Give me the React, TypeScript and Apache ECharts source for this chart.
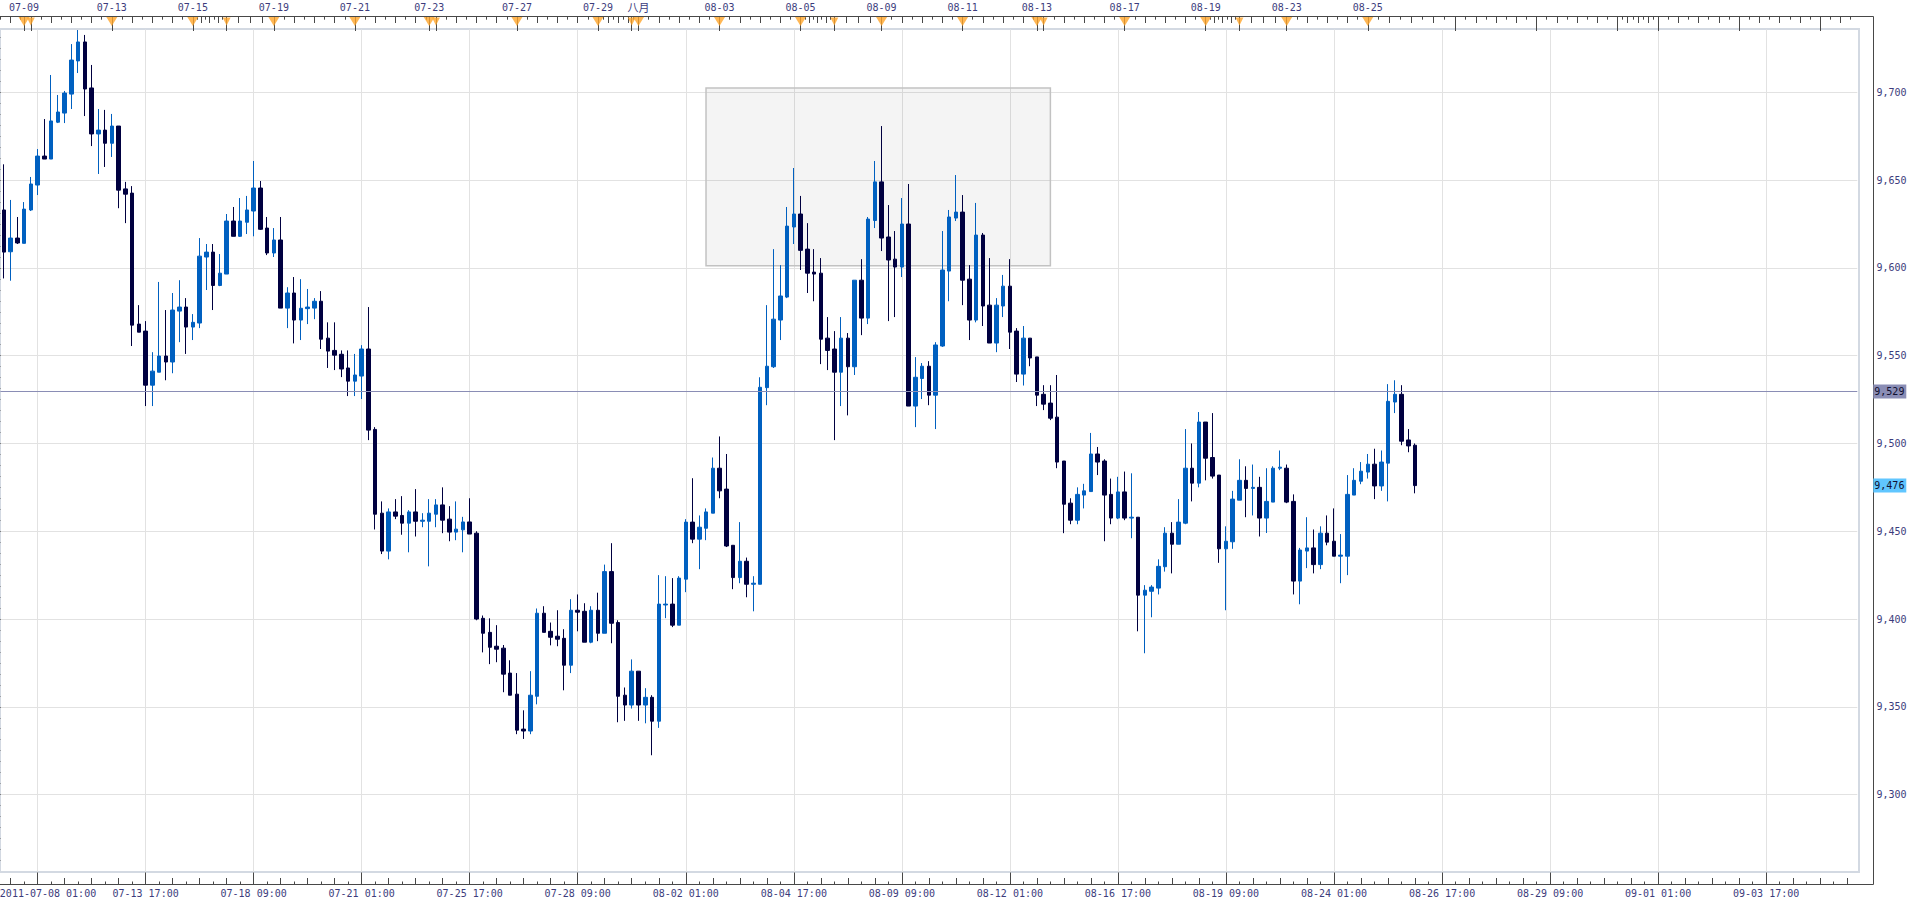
import React, { useEffect, useRef } from "react";
import * as echarts from "echarts";

const opens = [9633,9609.2,9617,9614,9633,9647.2,9663.7,9662,9683,9688.2,9699,9717.9,9728.7,9702.5,9676.3,9678.5,9671,9680.8,9645,9642.6,9568,9564,9533.2,9540.6,9549.8,9546.4,9575.4,9577.7,9566.3,9568.6,9606.2,9609,9590,9596.5,9626.7,9618,9626,9632.4,9645.5,9622.7,9608.5,9615.9,9577.1,9585.7,9570.3,9576.8,9577.1,9581,9560,9553,9550.8,9543,9535.5,9538.4,9553.8,9508,9460.3,9438.7,9461,9459,9454.6,9461,9455.7,9455.7,9459.7,9465,9456.9,9449.5,9450.8,9455.3,9448.9,9400.4,9392.4,9384.5,9383.4,9369.2,9357.2,9337.3,9336.2,9356,9403.3,9393,9390.2,9389,9373.7,9405,9404.4,9386.8,9405,9391.9,9427,9398,9356.6,9351,9370.3,9351,9355.4,9341.8,9408,9408.5,9396.5,9422.7,9455.2,9445.5,9451.7,9460.3,9485.9,9474,9442,9423.6,9432.9,9419.8,9419.8,9531.8,9543.7,9570.3,9583.4,9623.3,9630.7,9610.7,9597.6,9597,9560,9553.8,9540.6,9560,9543.7,9593,9571.4,9627,9649,9617.6,9605,9600.5,9625,9521.3,9537,9544,9527.5,9555.5,9598.2,9628.4,9631.8,9593.6,9570.3,9618.7,9578.8,9557.2,9578.3,9589.6,9564,9539.5,9560,9549.3,9528,9523,9515,9490,9466,9456.3,9470.6,9472.6,9494,9490,9471,9457.5,9472.4,9457.5,9458,9413.6,9415.8,9417.6,9429.8,9448.9,9442.6,9454.6,9485.9,9477.4,9512.2,9492,9482,9440,9444,9467.7,9479,9474.4,9475,9457.5,9466.6,9485.9,9485.9,9467,9421.6,9438.7,9440.5,9431,9448.9,9444.3,9435.8,9435.8,9470.6,9478.5,9483.7,9488.2,9475.8,9488.8,9523.6,9528,9502,9499];
const closes = [9609,9617,9614.2,9633.5,9647.8,9663.7,9662,9683.7,9688.8,9699.6,9718.4,9728.7,9701.9,9676.3,9678.5,9671,9680.8,9644.3,9642,9567.4,9563.4,9533.2,9541.2,9549.8,9546.4,9576,9577.7,9566.3,9569,9606.7,9609,9590,9597,9626.7,9618,9626.7,9633,9645.5,9622,9608.5,9615.9,9577.1,9585.7,9570.3,9577,9577.7,9581,9559.4,9552.6,9550.3,9542.4,9535.5,9539,9553.8,9507.6,9459.7,9438.7,9461,9458.6,9454.6,9461,9455.7,9456.3,9460.3,9465,9456.3,9449.5,9451.2,9455.3,9448.4,9400,9391.9,9383.9,9382.8,9368.6,9356.6,9336.7,9336.2,9356.6,9403.3,9392.4,9389.6,9388.5,9373.7,9405,9403.9,9386.8,9405,9391.9,9427,9397.6,9356,9351,9370.3,9351,9355.4,9341.8,9408.5,9408.5,9396.5,9423.3,9455.2,9445.5,9452.3,9461,9485.9,9473,9441.6,9423.6,9432.9,9419.8,9420.4,9532,9544,9570.8,9584,9623.8,9630.7,9610,9597,9596.5,9559.4,9553,9540.6,9560,9543.7,9593,9571.4,9627.8,9649,9617,9604.5,9600.5,9625,9521.3,9537.7,9544,9527.5,9556.1,9598.8,9629,9631.8,9593,9570.3,9618.7,9578.3,9557.2,9578.8,9589.6,9563.4,9539.5,9560,9548.7,9527.5,9522.4,9514.4,9489.4,9465.4,9456.3,9471,9473,9494,9489.4,9470.6,9457.5,9472.4,9457.5,9458,9413.6,9416.4,9418.2,9430,9448.9,9442.6,9455.2,9485.9,9477.4,9512.2,9491.6,9481.4,9440,9444.3,9468.3,9479,9474.4,9475,9457.5,9467,9485.9,9486.5,9466.6,9421.6,9439.3,9440.5,9431,9448.9,9443.8,9435.8,9436.4,9471,9479,9484.2,9488.2,9475.8,9489.4,9524,9528,9501.3,9498.6,9476];
const lows = [9594,9592.7,9613.6,9614,9632.4,9641.5,9662,9662,9682.5,9682.5,9690.5,9711,9686.5,9669.4,9653.5,9657.5,9663.2,9634,9625.5,9555.5,9563.4,9521.3,9521.3,9540.6,9536,9540,9557.7,9551,9558.9,9565.7,9587.4,9576,9589.6,9596.5,9618,9617.6,9619.3,9618,9621.6,9607.3,9606.2,9577.1,9565.7,9557,9558.9,9568,9570.8,9553.8,9543,9541.8,9537.8,9527,9527,9525.3,9501.9,9451,9437,9434,9456.9,9448,9438,9447,9452.3,9430,9452.3,9448.9,9444.3,9444.9,9438,9448.4,9399.3,9381,9374.3,9375.4,9358.3,9356.6,9334.4,9331.7,9334.4,9351.4,9392.4,9385,9384.5,9359.4,9369.2,9393,9386.8,9386.2,9387.4,9391.9,9386.2,9341.2,9342,9349,9342,9340.6,9322.4,9338,9400.5,9395.4,9396.5,9415.3,9443.2,9428.4,9444.9,9460.3,9468.8,9441,9417,9420.4,9412.4,9404.4,9419.8,9521.8,9543,9558.9,9582.8,9613.6,9598.8,9585.7,9581,9545.2,9541.8,9501.9,9521.3,9516,9539,9561.7,9568,9622.7,9609.6,9569.7,9572,9594.8,9521.3,9509.3,9525.3,9521.8,9508.2,9555,9581,9626.7,9578.8,9558.9,9569,9566.9,9557.2,9552,9572,9553.8,9535,9533,9544,9521.3,9519,9513.3,9485.9,9448.9,9454,9454,9463,9472.6,9482,9444.3,9454,9456.9,9456.3,9446,9393,9380.5,9401,9414,9427,9426,9442.6,9454,9467,9475,9479,9480,9432,9405,9440,9467.7,9458,9459,9447,9449,9466.6,9484.8,9466,9414,9408.4,9429,9426,9428.4,9442,9435.8,9420.4,9425,9470.6,9476.8,9480,9468.3,9473,9467,9517.3,9499,9495,9471.6];
const highs = [9659,9638.7,9629,9637.5,9651.8,9667.7,9684.8,9709.9,9698.5,9700.8,9727.5,9735.5,9732.7,9715.6,9690.5,9690,9687.7,9680.8,9649,9646.6,9578.8,9569.7,9552,9592,9576,9585.7,9593,9582.8,9573.7,9617,9613.6,9613.6,9607.9,9630.7,9634.7,9639.8,9641,9660.9,9649.5,9629,9622.7,9629,9589,9594.8,9593.6,9588,9582.8,9586.8,9569,9569,9553,9553,9551,9556,9577.7,9509.3,9467,9463,9468.3,9470,9462,9474,9460.3,9468.3,9468.3,9475,9464.3,9467,9458.2,9468.8,9450,9402,9400.4,9396.5,9385.2,9376.5,9369.2,9348,9370.3,9406,9407.3,9398,9405,9394.2,9411.3,9414,9409,9407.3,9415,9431,9443.2,9399.3,9361,9377,9370.3,9360.6,9356.6,9425,9424.4,9423.3,9424.4,9456.9,9480.2,9459,9463,9492,9504,9494,9442,9455.2,9435,9424.4,9537.7,9578.8,9610.7,9601.6,9634.7,9656.9,9641,9625.5,9610.7,9605.6,9572,9564,9572,9562.9,9593,9605,9629,9660.9,9680.8,9635.8,9621,9639.8,9647.8,9549.2,9545.8,9546.9,9557.7,9621,9633,9652.9,9641.5,9601.6,9637,9619.9,9605.6,9582.8,9596,9605,9565.7,9566.9,9560,9549.3,9533.2,9533.2,9539,9490,9468.8,9475,9477,9506,9498,9491,9480,9481,9484,9483,9458,9419.3,9419.3,9434,9452.3,9455.2,9468.3,9508.2,9500,9517.9,9512.2,9517.3,9482,9452.8,9473,9491,9487,9488,9481,9485.9,9487,9496,9488,9471,9440.5,9458,9451,9452.8,9459,9463,9448.4,9482,9485.9,9489.4,9494,9497,9496,9533.8,9536,9533.2,9508.2,9500];

const bottomLabelIndex = [21,37,53,69,85,101,117,133,149,165,181,197,213,229,245,261];
const bottomLabelText = ["07-13 17:00","07-18 09:00","07-21 01:00","07-25 17:00","07-28 09:00","08-02 01:00","08-04 17:00","08-09 09:00","08-12 01:00","08-16 17:00","08-19 09:00","08-24 01:00","08-26 17:00","08-29 09:00","09-01 01:00","09-03 17:00"];
const firstBottomLabel = "2011-07-08 01:00";
const topLabelIndex = [3,16,28,40,52,63,76,88,94,106,118,130,142,153,166,178,190,202];
const topLabelText = ["07-09","07-13","07-15","07-19","07-21","07-23","07-27","07-29","八月","08-03","08-05","08-09","08-11","08-13","08-17","08-19","08-23","08-25"];
const bigMarkers = [3,16,28,40,52,63,76,88,94,106,118,130,142,153,166,178,190,202];
const smallMarkers = [4,33,64,93,123,154,183];
const topMajorExtra = [215,227,239,245,257,269];
const yLabels = [9300,9350,9400,9450,9500,9550,9600,9650,9700];
const lastPriceLine = 9529.6;
const closePriceTag = 9476;
const boxTopLeft = [104, 9702.5];
const boxBottomRight = [155, 9601.2];

const SLOTS = 275;
const Y_MIN = 9255.9;
const Y_MAX = 9735.8;
const FONT = '"DejaVu Sans Mono", "Liberation Mono", "Noto Sans CJK SC", monospace';
const TEXT = "#3c3c7c";
const TICK = "#484848";

const candles = opens.map((o, i) => [o, closes[i], lows[i], highs[i]]);
const categories = Array.from({ length: SLOTS }, (_, i) => String(i));

function tickSets() {
  const bottomMajor: number[] = [], bottomMedium: number[] = [], bottomSmall: number[] = [];
  for (let i = 1; i < SLOTS; i += 2) {
    const k = i - 5;
    if (((k % 16) + 16) % 16 === 0) bottomMajor.push(i + 0.5);
    else if (((k % 4) + 4) % 4 === 0) bottomMedium.push(i + 0.5);
    else bottomSmall.push(i + 0.5);
  }
  const topMajor = [...bigMarkers, ...smallMarkers, ...topMajorExtra].sort((a, b) => a - b);
  const anchors = [-8, 4, 16, 28, 33, 40, 52, 64, 76, 88, 94, 106, 118, 123, 130, 142, 154, 166, 178, 183, 190, 202, 215, 227, 239, 245, 257, 269, 281];
  const topMedium: number[] = [], topSmall: number[] = [];
  for (let a = 0; a < anchors.length - 1; a++) {
    const s = anchors[a], e = anchors[a + 1];
    const n = e - s === 7 ? 4 : 8;
    for (let j = 1; j < n; j++) {
      const v = s + ((e - s) * j) / n + 0.5;
      if (v < 0 || v > SLOTS) continue;
      if (n === 4 || j % 2 === 0) topMedium.push(v);
      else topSmall.push(v);
    }
  }
  return { bottomMajor, bottomMedium, bottomSmall, topMajor: topMajor.map((v) => v + 0.5), topMedium, topSmall };
}

function stepped(from: number, to: number, step: number) {
  const out: number[] = [];
  for (let v = from; v <= to; v += step) out.push(v);
  return out;
}

export default function App() {
  const ref = useRef<HTMLDivElement>(null);
  useEffect(() => {
    const chart = echarts.init(ref.current!, undefined, { renderer: "svg" });
    const t = tickSets();
    const base = { type: "value", min: 0, max: SLOTS, splitLine: { show: false }, axisLine: { show: false }, axisLabel: { show: false } };
    const tick = (values: number[], length: number) => ({ show: true, inside: true, length, customValues: values, lineStyle: { color: TICK, width: 1 } });
    const labelFor = new Map<number, string>();
    const firstLabelPos = 7.05;
    labelFor.set(firstLabelPos, firstBottomLabel);
    bottomLabelIndex.forEach((v, i) => labelFor.set(v + 0.5, bottomLabelText[i]));
    const topFor = new Map<number, string>();
    topLabelIndex.forEach((v, i) => topFor.set(v + 0.5, topLabelText[i]));
    const yTick = (v: number) => `${Math.floor(v / 1000)},${String(Math.floor(v) % 1000).padStart(3, "0")}`;

    const tag = (value: number, bg: string) => ({
      yAxis: value,
      label: {
        show: true,
        position: "end",
        distance: 16,
        formatter: yTick(value),
        color: "#101030",
        fontFamily: FONT,
        fontSize: 10,
        lineHeight: 10,
        backgroundColor: bg,
        padding: [2, 2, 2, 1],
        width: 30,
        height: 10,
      },
    });

    chart.setOption({
      animation: false,
      backgroundColor: "#ffffff",
      grid: {
        left: 0.4,
        right: 58.7,
        top: 29.5,
        bottom: 34,
        show: false,
        containLabel: false,
        outerBoundsMode: "none",
      },
      xAxis: [
        { type: "category", data: categories, boundaryGap: true, show: false },
        {
          ...base,
          position: "bottom",
          offset: 12.5,
          axisTick: tick(t.bottomMajor, 12),
          splitLine: { show: true, lineStyle: { color: "#e2e2e2", width: 1 } },
          axisLabel: {
            show: true,
            customValues: [firstLabelPos, ...bottomLabelIndex.map((v) => v + 0.5)],
            formatter: (v: number) => labelFor.get(v) ?? "",
            margin: 4,
            color: TEXT,
            fontFamily: FONT,
            fontSize: 10,
          },
        },
        { ...base, position: "bottom", offset: 12.5, axisTick: tick(t.bottomMedium, 6.5) },
        { ...base, position: "bottom", offset: 12.5, axisTick: tick(t.bottomSmall, 3) },
        {
          ...base,
          position: "top",
          offset: 13,
          axisTick: tick(t.topMajor, 14.5),
          axisLabel: {
            show: true,
            customValues: topLabelIndex.map((v) => v + 0.5),
            formatter: (v: number) => {
              const s = topFor.get(v) ?? "";
              return /^\d/.test(s) ? s : `{cn|${s}}`;
            },
            rich: { cn: { fontSize: 11, lineHeight: 11, fontFamily: '"Noto Sans CJK SC"', color: TEXT } },
            margin: 4,
            color: TEXT,
            fontFamily: FONT,
            fontSize: 10,
          },
        },
        { ...base, position: "top", offset: 13, axisTick: tick(t.topMedium, 6.5) },
        { ...base, position: "top", offset: 13, axisTick: tick(t.topSmall, 3.2) },
      ],
      yAxis: [
        {
          type: "value",
          min: Y_MIN,
          max: Y_MAX,
          position: "right",
          offset: 16.2,
          axisLine: { show: false },
          axisTick: { show: true, inside: true, length: 14, customValues: yLabels, lineStyle: { color: TICK, width: 1 } },
          splitLine: { show: true, lineStyle: { color: "#e2e2e2", width: 1 } },
          axisLabel: {
            show: true,
            customValues: yLabels,
            formatter: yTick,
            margin: 3,
            color: TEXT,
            fontFamily: FONT,
            fontSize: 10,
          },
        },
        {
          type: "value",
          min: Y_MIN,
          max: Y_MAX,
          position: "right",
          offset: 16.2,
          axisLine: { show: false },
          splitLine: { show: false },
          axisLabel: { show: false },
          axisTick: { show: true, inside: true, length: 7, customValues: stepped(9262.5, 9731.25, 6.25), lineStyle: { color: TICK, width: 1 } },
        },
      ],
      series: [
        {
          type: "candlestick",
          xAxisIndex: 0,
          yAxisIndex: 0,
          data: candles,
          barWidth: 4,
          clip: false,
          itemStyle: { color: "#0060c0", color0: "#000040", borderColor: "#0060c0", borderColor0: "#000040", borderWidth: 1 },
          markLine: {
            silent: true,
            symbol: "none",
            lineStyle: { color: "#8a8db5", width: 1, type: "solid" },
            data: [
              tag(lastPriceLine, "#8a8db5"),
              { ...tag(closePriceTag, "#60c6ff"), lineStyle: { color: "transparent", width: 0 } },
            ],
          },
          markArea: {
            silent: true,
            itemStyle: { color: "rgba(0,0,0,0.045)", borderColor: "#c2c2c2", borderWidth: 1.5 },
            data: [[
              { coord: [String(boxTopLeft[0]), boxTopLeft[1]] },
              { coord: [String(boxBottomRight[0]), boxBottomRight[1]] },
            ]],
          },
        },
        {
          type: "scatter",
          xAxisIndex: 0,
          yAxisIndex: 0,
          clip: false,
          symbol: "triangle",
          symbolRotate: 180,
          symbolSize: [8, 8],
          itemStyle: { color: "#ffa52a" },
          data: smallMarkers.map((i) => [i, Y_MAX + 8 / 1.755]),
          z: 5,
        },
        {
          type: "scatter",
          xAxisIndex: 0,
          yAxisIndex: 0,
          clip: false,
          symbol: "triangle",
          symbolRotate: 180,
          symbolSize: [11, 9],
          itemStyle: { color: "#ffa52a" },
          data: bigMarkers.map((i) => [i, Y_MAX + 8 / 1.755]),
          z: 5,
        },
      ],
      graphic: [
        {
          type: "rect",
          silent: true,
          z: -1,
          shape: { x: 0, y: 29, width: 1859, height: 843 },
          style: { stroke: "#d3d9e2", lineWidth: 2, fill: "none" },
        },
        {
          type: "polyline",
          silent: true,
          shape: { points: [[0, 16.5], [1873.5, 16.5], [1873.5, 884.5], [0, 884.5]] },
          style: { stroke: TICK, lineWidth: 1, fill: "none" },
        },
      ],
    });
    return () => chart.dispose();
  }, []);
  return <div ref={ref} style={{ position: "fixed", left: 0, top: 0, width: 1916, height: 906 }} />;
}
